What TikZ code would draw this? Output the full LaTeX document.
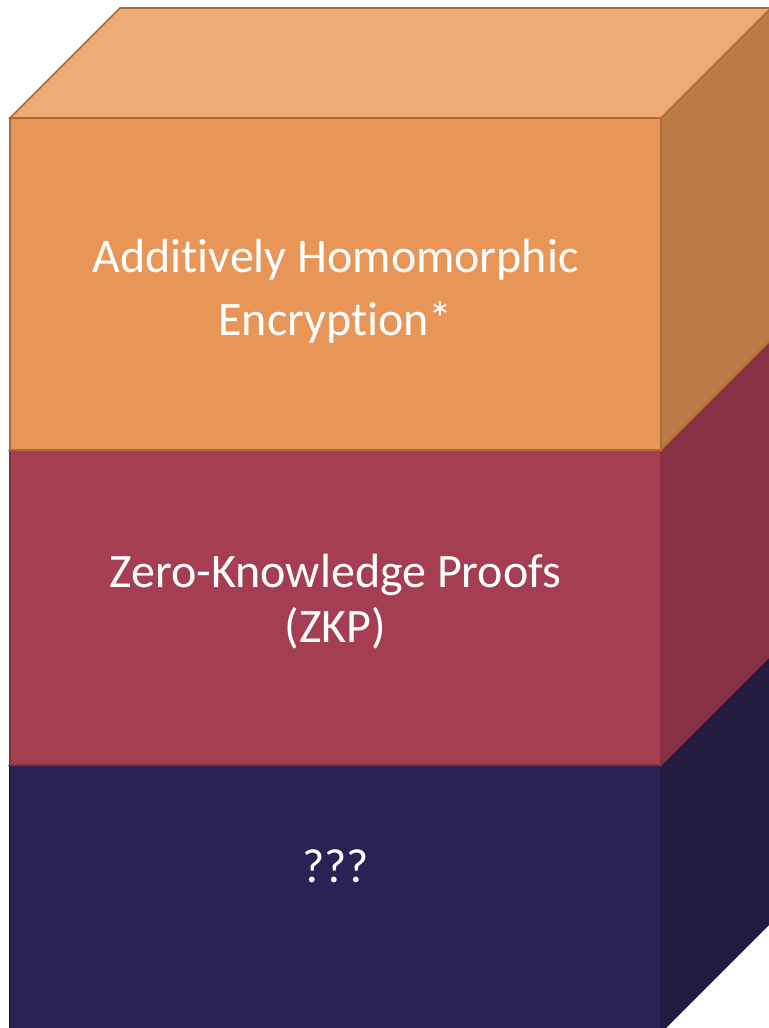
\documentclass[tikz,border=0pt]{standalone}
\usepackage{fontspec}
\setmainfont{Carlito}[Ligatures=NoCommon]
% layer colours: front, top, side, edge
\definecolor{orFront}{RGB}{232,150,88}
\definecolor{orTop}{RGB}{237,171,120}
\definecolor{orSide}{RGB}{188,122,68}
\definecolor{orEdge}{RGB}{172,106,56}
\definecolor{rdFront}{RGB}{165,62,80}
\definecolor{rdTop}{RGB}{190,100,110}
\definecolor{rdSide}{RGB}{136,49,68}
\definecolor{rdEdge}{RGB}{138,46,62}
\definecolor{puFront}{RGB}{44,33,84}
\definecolor{puTop}{RGB}{70,60,110}
\definecolor{puSide}{RGB}{34,28,66}
\definecolor{puEdge}{RGB}{33,26,66}
\tikzset{
  facet/.style={line width=1.6bp, line join=miter},
  label/.style={text=white, anchor=base, inner sep=0pt,
    font=\fontsize{48bp}{57bp}\selectfont},
}
\begin{document}
\begin{tikzpicture}[x=1bp,y=-1bp]
\useasboundingbox (0,0) rectangle (769,1028);
\clip (0,0) rectangle (769,1028);
% one slab: top y, bottom y, colour prefix; drawn from the bottom up
\foreach \t/\b/\c in {765/1032/pu, 450/765/rd, 118/450/or}{
  \draw[facet, draw=\c Edge, fill=\c Side]
    (661,\t) -- (771,\t-110) -- (771,\b-110) -- (661,\b) -- cycle;
  \draw[facet, draw=\c Edge, fill=\c Top]
    (10,\t) -- (120,\t-110) -- (771,\t-110) -- (661,\t) -- cycle;
  \draw[facet, draw=\c Edge, fill=\c Front]
    (10,\t) rectangle (661,\b);
}
\node[label] (aheA) at (335.5,272) {Additively Homomorphic};
\node[label] (aheB) at (335.5,335) {Encryption*};
\node[label] (zkpA) at (335.5,587) {Zero-Knowledge Proofs};
\node[label] (zkpB) at (335.5,642) {(ZKP)};
\node[label] (unk) at (335.5,882) {???};
\end{tikzpicture}
\end{document}
